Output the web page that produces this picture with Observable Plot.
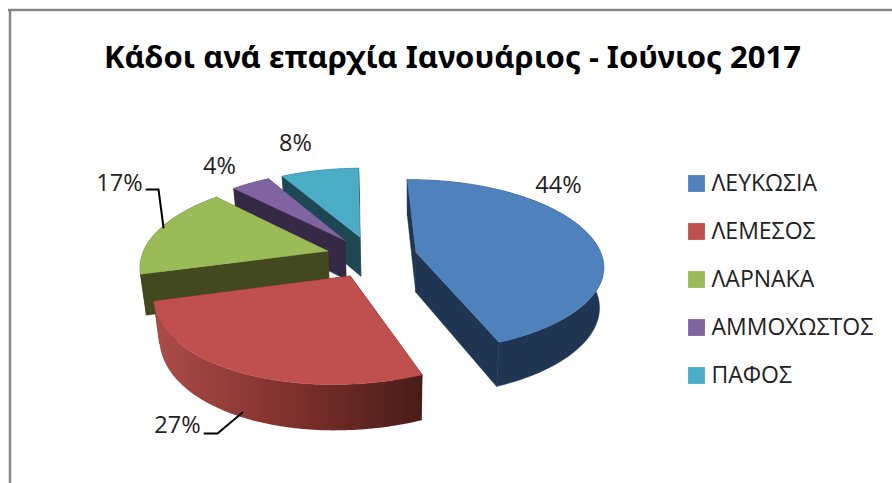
<!DOCTYPE html>
<html><head><meta charset="utf-8">
<script src="https://cdn.jsdelivr.net/npm/d3@7"></script>
<script src="https://cdn.jsdelivr.net/npm/@observablehq/plot@0.6"></script>
<style>html,body{margin:0;padding:0;background:#fff;overflow:hidden}svg{display:block}</style>
</head><body><div id="chart"></div>
<script>
const titleText = "Κάδοι ανά επαρχία Ιανουάριος - Ιούνιος 2017";
const categories = ["ΛΕΥΚΩΣΙΑ","ΛΕΜΕΣΟΣ","ΛΑΡΝΑΚΑ","ΑΜΜΟΧΩΣΤΟΣ","ΠΑΦΟΣ"];
const percents = [44,27,17,4,8];
const topColors = ["#4f81bd","#c0504d","#9bbb59","#8064a2","#4bacc6"];
const wallColors = ["#1f3552","url(#redwall)","#42491f","#352945","#1d4752"];
const edgeColors = ["#1f3552","#4f1f1b","#42491f","#352945","#1d4752"];
const labelPos = [[558,185],[177,425],[119,183],[219,166],[295,143]];
const legendY = [183,231,279,327,375];
const leaders = [[[146,189],[158,189],[163,227]],[[204,433],[217,433],[242,412]]];
const paintOrder = [4,3,2,0,1];

// projection of the tilted exploded pie
const W=892,H=483;
const P={cx:371,cy:256,rx:186,ry:85,k:.155,m:.022,zx:.8,d:41,e:.246,t0:-1,s:9};
const rad=d=>d*Math.PI/180;
function proj(X,Y,Z){const w=1+P.k*Y+P.m*Z;
  return {x:P.cx+P.rx*X/w-P.s*Math.min(Y,0)**2+P.zx*Z,y:P.cy+(-P.ry*Y+P.d*Z)/w};}
let acc=P.t0;
const slices=percents.map((v,i)=>{const a=acc,b=acc+v*3.6;acc=b;const m=rad((a+b)/2);
  return {i,a,b,ox:P.e*Math.sin(m),oy:P.e*Math.cos(m)};});
const rim=(s,t,Z)=>proj(s.ox+Math.sin(rad(t)),s.oy+Math.cos(rad(t)),Z);
const apex=(s,Z)=>proj(s.ox,s.oy,Z);
const arcAngles=s=>d3.range(s.a,s.b,1).concat([s.b]);

const poly=(pts,fill)=>Plot.line([...pts,pts[0]],{x:"x",y:"y",fill,stroke:fill.startsWith("url")?"none":fill,strokeWidth:.5,curve:"linear"});
const faceMarks=[];
for(const n of paintOrder){const s=slices[n];
  const edge=edgeColors[n];
  faceMarks.push(poly([rim(s,s.a,0),apex(s,0),apex(s,1),rim(s,s.a,1)],edge));
  faceMarks.push(poly([rim(s,s.b,0),apex(s,0),apex(s,1),rim(s,s.b,1)],edge));
  const A=arcAngles(s);
  faceMarks.push(poly([...A.map(t=>rim(s,t,0)),...A.slice().reverse().map(t=>rim(s,t,1))],wallColors[n]));
  faceMarks.push(poly([apex(s,0),...A.map(t=>rim(s,t,0))],topColors[n]));
}
const defs=()=>{const d=d3.create("svg:defs");
  const g=d.append("linearGradient").attr("id","redwall");
  [["0%","#ab4d49"],["45%","#85332f"],["100%","#491c19"]].forEach(([o,c])=>g.append("stop").attr("offset",o).attr("stop-color",c));
  return d.node();};

const font="'Open Sans',sans-serif";
const chart=Plot.plot({width:W,height:H,margin:0,
  x:{domain:[0,W],range:[0,W],axis:null},y:{domain:[0,H],range:[0,H],axis:null},
  style:{background:"#fff",fontFamily:font},
  marks:[defs,
    Plot.ruleY([9.5],{x1:8,x2:W,stroke:"#868686",strokeWidth:2.5}),
    Plot.ruleX([9.5],{y1:9,y2:H,stroke:"#868686",strokeWidth:2.5}),
    ...faceMarks,
    ...leaders.map(l=>Plot.line(l,{x:d=>d[0],y:d=>d[1],stroke:"#000",strokeWidth:2,curve:"linear"})),
    Plot.text([titleText],{x:()=>452,y:()=>58,text:d=>d,fontSize:31,fontWeight:700,fill:"#000",fontFamily:"'Noto Sans',sans-serif"}),
    Plot.text(percents,{x:(d,i)=>labelPos[i][0],y:(d,i)=>labelPos[i][1],text:d=>d+"%",fontSize:23.5,fill:"#222",fontFamily:font}),
    Plot.dot(categories,{x:()=>696,y:(d,i)=>legendY[i],symbol:"square",r:9.5,fill:(d,i)=>topColors[i],stroke:null}),
    Plot.text(categories,{x:()=>711,y:(d,i)=>legendY[i],text:d=>d,textAnchor:"start",fontSize:23,fill:"#222",fontFamily:font})
  ]});
document.getElementById("chart").append(chart);
</script></body></html>
